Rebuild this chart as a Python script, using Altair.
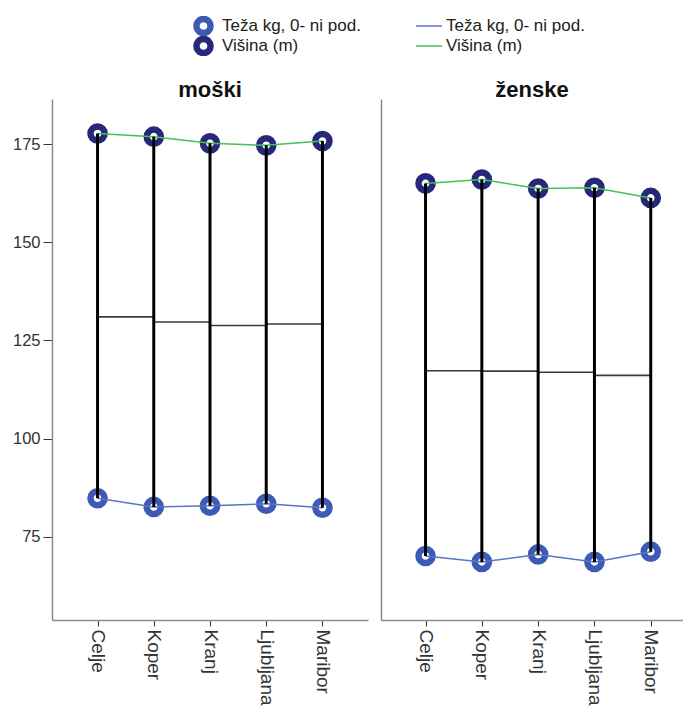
import altair as alt
import pandas as pd

cities = ["Celje", "Koper", "Kranj", "Ljubljana", "Maribor"]
panels = ["moški", "ženske"]
series_w = "Teža kg, 0- ni pod."
series_h = "Višina (m)"

m_height = [177.7, 176.9, 175.2, 174.7, 175.8]
m_weight = [84.8, 82.6, 82.9, 83.4, 82.4]
m_mid = [131.0, 129.7, 128.8, 129.2, 129.1]

f_height = [165.0, 166.0, 163.7, 163.9, 161.3]
f_weight = [70.1, 68.6, 70.5, 68.6, 71.2]
f_mid = [117.3, 117.2, 116.9, 116.1, 116.25]

y_ticks = [75, 100, 125, 150, 175]
y_domain = [53.8, 186.5]

FONT = "Liberation Sans"
pt_colors = ["#3d5bb5", "#27287a"]
ln_colors = ["#5b74c4", "#45c155"]
LINE_PREFIX = "line: "


def long_df(h, w):
    rows = []
    for c, hv, wv in zip(cities, h, w):
        rows.append({"city": c, "value": wv, "tocke": series_w, "crte": LINE_PREFIX + series_w})
        rows.append({"city": c, "value": hv, "tocke": series_h, "crte": LINE_PREFIX + series_h})
    return pd.DataFrame(rows)


def wide_df(h, w, mid):
    return pd.DataFrame({"city": cities, "lo": w, "hi": h, "mid": mid})


def panel(title, h, w, mid, left, width, xpad, xalign):
    dl = long_df(h, w)
    dw = wide_df(h, w, mid)
    xaxis = alt.Axis(labelAngle=90, title=None, tickSize=6, labelFontSize=19,
                     labelFont=FONT, domainColor="#8a8a8a", tickColor="#333333",
                     labelColor="#333333", labelPadding=3, domainWidth=1.5)
    if left:
        yaxis = alt.Axis(values=y_ticks, title=None, tickSize=9, labelFontSize=16.5,
                         labelFont=FONT, domainColor="#8a8a8a", tickColor="#333333",
                         labelColor="#333333", grid=False, labelPadding=3,
                         minExtent=44, maxExtent=44, domainWidth=1.5)
    else:
        yaxis = alt.Axis(labels=False, ticks=False, title=None, grid=False,
                         domainColor="#8a8a8a", domainWidth=1.5, minExtent=0, maxExtent=0)
    X = alt.X("city:N", sort=cities,
              scale=alt.Scale(type="point", padding=xpad, align=xalign), axis=xaxis)
    ysc = alt.Scale(domain=y_domain, nice=False, zero=False)
    midline = alt.Chart(dw).mark_line(interpolate="step-after", color="#3a3a3a",
                                      strokeWidth=1.6).encode(
        x=X, y=alt.Y("mid:Q", scale=ysc, axis=yaxis))
    points = alt.Chart(dl).mark_point(shape="circle", filled=False, fill="white",
                                      strokeWidth=6.5, size=200, opacity=1).encode(
        x=X, y=alt.Y("value:Q", scale=ysc, axis=yaxis),
        stroke=alt.Stroke("tocke:N", scale=alt.Scale(domain=[series_w, series_h], range=pt_colors),
                          legend=alt.Legend(title=None, orient="none", legendX=141, legendY=-83,
                                            symbolType="circle", symbolSize=200,
                                            symbolStrokeWidth=6.5, symbolFillColor="white",
                                            labelFontSize=17, labelFont=FONT, labelColor="#222222",
                                            labelOffset=8, rowPadding=0, padding=0,
                                            clipHeight=20)))
    lines = alt.Chart(dl).mark_line(strokeWidth=1.5).encode(
        x=X, y=alt.Y("value:Q", scale=ysc, axis=yaxis),
        color=alt.Color("crte:N",
                        scale=alt.Scale(domain=[LINE_PREFIX + series_w, LINE_PREFIX + series_h],
                                        range=ln_colors),
                        legend=alt.Legend(title=None, orient="none", legendX=364, legendY=-83,
                                          symbolType="M-1.5,0H1.5", symbolSize=400,
                                          symbolStrokeWidth=1.5,
                                          labelExpr="replace(datum.label, 'line: ', '')",
                                          labelFontSize=17, labelFont=FONT, labelColor="#222222",
                                          labelOffset=8, rowPadding=0, padding=0,
                                          clipHeight=20)))
    rules = alt.Chart(dw).mark_rule(strokeWidth=3, color="black").encode(
        x=X, y=alt.Y("lo:Q", scale=ysc, axis=yaxis), y2="hi:Q")
    return alt.layer(midline, points, lines, rules).properties(
        width=width, height=521,
        title=alt.TitleParams(title, fontSize=22, font=FONT, fontWeight="bold",
                              offset=-3, anchor="middle", color="#111111"))


left = panel(panels[0], m_height, m_weight, m_mid, True, 316, 0.81, 0.5)
right = panel(panels[1], f_height, f_weight, f_mid, False, 302, 0.682, 0.58)

chart = alt.hconcat(left, right, spacing=13).resolve_scale(
    x="independent", y="independent"
).properties(
    padding={"left": 0, "top": 8, "right": 0, "bottom": 0}
).configure(
    background="white", view=alt.ViewConfig(stroke=None)
)

chart.save("out.html", embed_options={"renderer": "svg", "actions": False})
